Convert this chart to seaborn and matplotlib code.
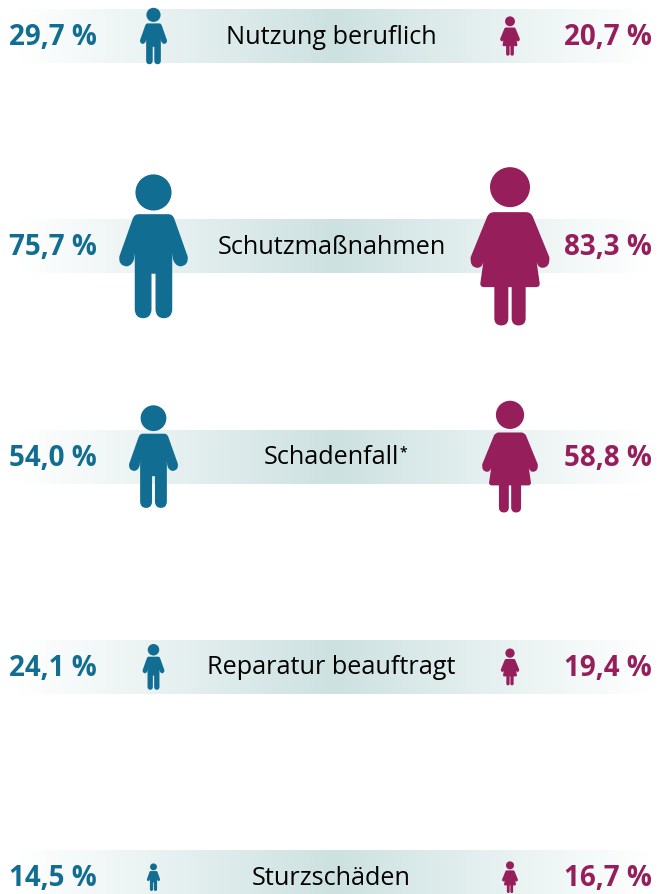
import numpy as np
import pandas as pd
import matplotlib
matplotlib.use("Agg")
import matplotlib.pyplot as plt
from matplotlib.path import Path
from matplotlib.colors import LinearSegmentedColormap
import seaborn as sns

# ---- data ----
categories = ["Nutzung beruflich", "Schutzmaßnahmen", "Schadenfall", "Reparatur beauftragt", "Sturzschäden"]
maenner = [29.7, 75.7, 54.0, 24.1, 14.5]
frauen = [20.7, 83.3, 58.8, 19.4, 16.7]
footnote_marks = ["", "", "*", "", ""]

# ---- style ----
BLUE = "#116d91"
PINK = "#951e5b"
BAND = "#cde1e1"
W, H = 658, 894
ROW0, ROW_STEP = 36.0, 210.3
BAND_H = 54
PX_PER_PCT = 1.9
X_M, X_F = 153.5, 510
TEXT_SHIFT = -2


def shape(head, body, cx, cy, half):
    """Build a figure marker; body is a list of (code, x, y) in drawing units."""
    def n(x, y):
        return ((x - cx) / half, (cy - y) / half)
    hx, hy, hr = head
    c = Path.circle(n(hx, hy), hr / half)
    verts = [n(x, y) for _, x, y in body]
    codes = [k for k, _, _ in body]
    verts.append(verts[0])
    codes.append(Path.CLOSEPOLY)
    return Path.make_compound_path(c, Path(verts, codes))


M, L, Q = Path.MOVETO, Path.LINETO, Path.CURVE3


def mirrored(right, cx):
    """Right half listed top-to-bottom; add mirrored left half."""
    out = [(M, right[0][1], right[0][2])] + list(right[1:])
    pts = right[::-1]
    for i in range(len(pts)):
        k_here = pts[i - 1][0] if i > 0 else L
        _, x, y = pts[i]
        out.append((k_here if i > 0 else L, 2 * cx - x, y))
    return out


man_right = [
    (L, 205, 162), (Q, 218, 162), (Q, 223, 178),
    (L, 262, 288), (Q, 266, 316), (Q, 240, 318),
    (Q, 224, 316), (Q, 218, 296), (L, 216, 278),
    (L, 216, 448), (Q, 214, 473), (Q, 191, 473),
    (Q, 168, 473), (Q, 166, 448), (L, 166, 340),
]
woman_right = [
    (L, 226, 155), (Q, 241, 155), (Q, 247, 170),
    (L, 296, 290), (Q, 299, 321), (Q, 276, 322),
    (Q, 262, 322), (Q, 258, 305), (L, 267, 368),
    (Q, 268, 380), (Q, 256, 380), (L, 225, 380),
    (L, 225, 475), (Q, 224, 495), (Q, 204, 495),
    (Q, 184, 495), (Q, 183, 475), (L, 183, 380),
]
man_path = shape((160, 97, 54), mirrored(man_right, 160), 160, 258, 215)
woman_path = shape((178, 80, 60), mirrored(woman_right, 178), 178, 257.5, 237.5)

# ---- table ----
n = len(categories)
rows = [ROW0 + i * ROW_STEP for i in range(n)]
df = pd.DataFrame({
    "kategorie": categories * 2,
    "y": rows * 2,
    "x": [X_M] * n + [X_F] * n,
    "wert": maenner + frauen,
    "gruppe": ["m"] * n + ["f"] * n,
})

sns.set_theme(style="white")
plt.rcParams["font.family"] = ["Open Sans", "DejaVu Sans"]
fig = plt.figure(figsize=(W / 100, H / 100), dpi=100)
ax = fig.add_axes([0, 0, 1, 1])

# gradient bands
cmap = LinearSegmentedColormap.from_list("band", ["#ffffff", BAND, "#ffffff"])
grad = np.linspace(0, 1, 512).reshape(1, -1)
for y in rows:
    ax.imshow(grad, cmap=cmap, aspect="auto", zorder=1,
              extent=(18, 650, y + BAND_H / 2, y - BAND_H / 2), interpolation="bilinear")

# figures: marker height grows with the value (s = (height in pt) ** 2)
sizes = {v: (PX_PER_PCT * v * 0.72) ** 2 for v in df["wert"]}
sns.scatterplot(data=df, x="x", y="y", hue="gruppe", style="gruppe", size="wert",
                palette={"m": BLUE, "f": PINK},
                markers={"m": man_path, "f": woman_path},
                sizes=sizes, linewidth=0, legend=False, ax=ax, zorder=3, clip_on=True)

# text
PCT_SIZE = 20
LAB_SIZE = 18.2
for y, cat, m, f, mark in zip(rows, categories, maenner, frauen, footnote_marks):
    ty = y + TEXT_SHIFT
    ax.text(97, ty, f"{m:.1f} %".replace(".", ","), color=BLUE, fontsize=PCT_SIZE, fontweight="bold",
            ha="right", va="center_baseline", zorder=4)
    ax.text(652, ty, f"{f:.1f} %".replace(".", ","), color=PINK, fontsize=PCT_SIZE, fontweight="bold",
            ha="right", va="center_baseline", zorder=4)
    t = ax.text(331.5, ty, cat, color="#000000", fontsize=LAB_SIZE, ha="center",
                va="center_baseline", zorder=4)
    if mark:
        ax.annotate(mark, xy=(1, 1), xycoords=t, xytext=(0.3, 0), textcoords="offset points",
                    fontsize=10, fontweight="semibold", ha="left", va="top", color="#000000", zorder=4)

ax.set_xlim(0, W)
ax.set_ylim(H, 0)
ax.set_xlabel("")
ax.set_ylabel("")
ax.set_xticks([])
ax.set_yticks([])
sns.despine(ax=ax, left=True, bottom=True)
fig.savefig("out.png", dpi=100, facecolor="white")
